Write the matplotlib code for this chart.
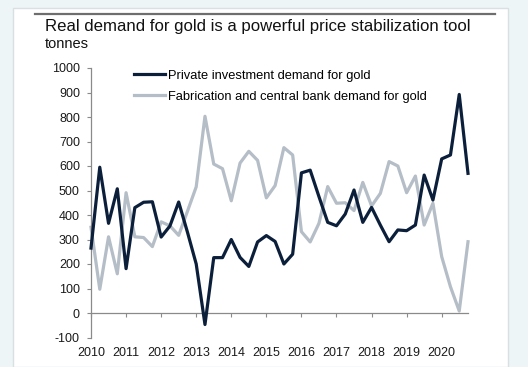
"""Real demand for gold vs fabrication/central bank demand, quarterly 2010-2020."""
import matplotlib
matplotlib.use("Agg")
import matplotlib.pyplot as plt
from matplotlib.patches import Rectangle
from matplotlib.lines import Line2D

plt.rcParams["font.family"] = ["Liberation Sans", "DejaVu Sans"]
plt.rcParams["axes.unicode_minus"] = False

# quarterly values, tonnes (2010 Q1 .. 2020 Q4)
private_investment = [265, 595, 366, 507, 181, 430, 452, 454, 310, 355, 453, 330,
                      200, -47, 226, 226, 300, 227, 190, 290, 316, 292, 200, 240,
                      572, 583, 475, 370, 356, 404, 502, 370, 431, 359, 291, 339,
                      336, 359, 563, 461, 629, 645, 892, 570]
fabrication_cb = [350, 97, 311, 160, 491, 311, 308, 271, 372, 356, 317, 415,
                  515, 803, 608, 589, 458, 612, 660, 623, 470, 520, 675, 645,
                  332, 290, 366, 516, 448, 450, 418, 533, 437, 488, 618, 600,
                  491, 559, 359, 448, 230, 107, 8, 291]
years = [str(y) for y in range(2010, 2021)]

W, H = 528, 367
fig = plt.figure(figsize=(W / 100, H / 100), dpi=100, facecolor="#edf5f7")

# white card with a grey rule on top (kept behind the axes)
card = Rectangle((13 / W, 0), 495 / W, 1 - 8 / H, transform=fig.transFigure,
                 facecolor="white", edgecolor="#d9dfe2", linewidth=1.0, zorder=-5)
fig.patches.append(card)
fig.add_artist(Line2D([35 / W, 495 / W], [1 - 14 / H, 1 - 14 / H], color="#6e6e6e",
                      linewidth=1.6, transform=fig.transFigure, zorder=-4))

left, right, top, bottom = 91, 468, 68, 337.5
ax = fig.add_axes([left / W, 1 - bottom / H, (right - left) / W, (bottom - top) / H])
ax.set_facecolor("none")
ax.set_zorder(2)

x = list(range(len(private_investment)))
ax.plot(x, private_investment, color="#0c1f3a", linewidth=2.3, clip_on=False,
        label="Private investment demand for gold", zorder=3)
ax.plot(x, fabrication_cb, color="#b5bdc7", linewidth=2.3, clip_on=False,
        label="Fabrication and central bank demand for gold", zorder=2)

ax.set_xlim(0, len(x) - 1)
ax.set_ylim(-100, 1000)
ax.set_yticks(range(-100, 1001, 100))
ax.set_xticks(range(0, 41, 4))
ax.set_xticklabels(years)

for s in ("top", "right"):
    ax.spines[s].set_visible(False)
ax.spines["bottom"].set_position(("data", 0))
ax.spines["bottom"].set_bounds(0, len(x) - 1)
for s in ("left", "bottom"):
    ax.spines[s].set_color("#8a8a8a")
    ax.spines[s].set_linewidth(0.9)
ax.tick_params(axis="y", direction="out", length=3, width=0.8, color="#8a8a8a",
               labelsize=9, labelcolor="#1a1a1a", pad=5)
ax.tick_params(axis="x", direction="out", length=3, width=0.8, color="#8a8a8a",
               labelsize=9, labelcolor="#1a1a1a", pad=21.5)

ax.legend(loc="upper left", bbox_to_anchor=(0.1, 1.012), frameon=False, fontsize=9.3,
          handlelength=2.4, handletextpad=0.25, labelspacing=0.68, borderaxespad=0)

fig.text(45 / W, 1 - 31 / H, "Real demand for gold is a powerful price stabilization tool",
         fontsize=12.1, color="#111111", va="baseline")
fig.text(45 / W, 1 - 48 / H, "tonnes", fontsize=10.5, color="#111111", va="baseline")

fig.savefig("out.png", dpi=100, facecolor=fig.get_facecolor())
